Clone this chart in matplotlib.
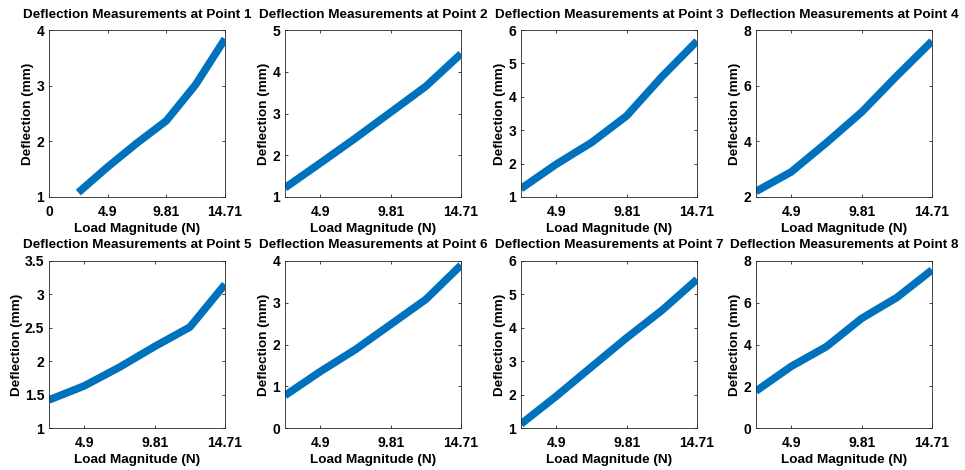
import matplotlib
matplotlib.use("Agg")
import matplotlib.pyplot as plt

plt.rcParams['font.family'] = ['Liberation Sans', 'DejaVu Sans']
plt.rcParams['font.weight'] = 'bold'

# load steps (N) and deflection readings (mm) at each measurement point
loads = [2.45, 4.9, 7.36, 9.81, 12.26, 14.71]
defl_p1 = [1.08, 1.54, 1.97, 2.37, 3.02, 3.84]
defl_p2 = [1.22, 1.81, 2.41, 3.03, 3.65, 4.43]
defl_p3 = [1.25, 1.98, 2.63, 3.43, 4.60, 5.67]
defl_p4 = [2.20, 2.90, 3.95, 5.05, 6.35, 7.60]
defl_p5 = [1.42, 1.63, 1.91, 2.22, 2.51, 3.15]
defl_p6 = [0.78, 1.35, 1.88, 2.48, 3.08, 3.90]
defl_p7 = [1.12, 1.95, 2.83, 3.70, 4.52, 5.45]
defl_p8 = [1.77, 2.95, 3.90, 5.25, 6.25, 7.57]
all_defl = [defl_p1, defl_p2, defl_p3, defl_p4, defl_p5, defl_p6, defl_p7, defl_p8]

y_limits = [(1, 4), (1, 5), (1, 6), (2, 8), (1, 3.5), (0, 4), (1, 6), (0, 8)]
y_ticks = [[1, 2, 3, 4], [1, 2, 3, 4, 5], [1, 2, 3, 4, 5, 6], [2, 4, 6, 8],
           [1, 1.5, 2, 2.5, 3, 3.5], [0, 1, 2, 3, 4], [1, 2, 3, 4, 5, 6], [0, 2, 4, 6, 8]]
x_ticks = [4.9, 9.81, 14.71]
x_labels = ['4.9', '9.81', '14.71']

W, H = 965, 470
fig = plt.figure(figsize=(W / 100, H / 100), dpi=100)

lefts = [49, 285, 521, 756]
bottoms = [197, 428]
ax_w, ax_h = 176, 167

for i, defl in enumerate(all_defl):
    row, col = divmod(i, 4)
    ax = fig.add_axes([lefts[col] / W, 1 - bottoms[row] / H, ax_w / W, ax_h / H])
    ax.plot(loads, defl, color='#0072BD', linewidth=5.5, solid_capstyle='butt')
    if i == 0:
        ax.set_xlim(0, 14.71)
        ax.set_xticks([0] + x_ticks)
        ax.set_xticklabels(['0'] + x_labels)
    else:
        ax.set_xlim(2.45, 14.71)
        ax.set_xticks(x_ticks)
        ax.set_xticklabels(x_labels)
    ax.set_ylim(*y_limits[i])
    ax.set_yticks(y_ticks[i])
    ax.set_yticklabels([f'{t:g}' for t in y_ticks[i]])
    ax.tick_params(direction='in', length=2.5, width=0.6, top=True, right=True,
                   labelsize=10, colors='#262626', labelcolor='black')
    ax.tick_params(axis='x', pad=6)
    ax.tick_params(axis='y', pad=3.5)
    for s in ax.spines.values():
        s.set_color('#262626')
        s.set_linewidth(0.6)
    ax.set_title(f'Deflection Measurements at Point {i + 1}', fontsize=9.7,
                 fontweight='bold', pad=9)
    ax.set_xlabel('Load Magnitude (N)', fontsize=9.7, fontweight='bold', labelpad=3)
    ax.set_ylabel('Deflection (mm)', fontsize=9.7, fontweight='bold', labelpad=1.5)

fig.savefig('out.png', dpi=100)
